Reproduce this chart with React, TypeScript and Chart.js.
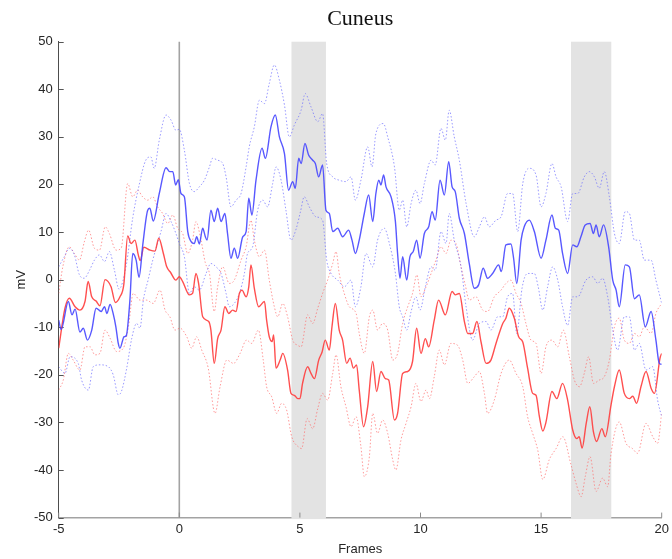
import { useEffect, useRef } from "react";
import { Chart, registerables } from "chart.js";

Chart.register(...registerables);

// ---- data ----
const blueMeanX = [-5.0, -4.9, -4.6, -4.45, -4.32, -4.12, -3.98, -3.81, -3.63, -3.45, -3.24, -3.1, -3.0, -2.87, -2.73, -2.63, -2.53, -2.46, -2.29, -2.2, -2.05, -1.93, -1.79, -1.67, -1.51, -1.31, -1.22, -1.08, -0.83, -0.55, -0.4, -0.27, -0.15, -0.04, 0.07, 0.21, 0.35, 0.49, 0.62, 0.72, 0.83, 0.97, 1.08, 1.15, 1.31, 1.45, 1.59, 1.73, 1.89, 2.0, 2.14, 2.28, 2.42, 2.63, 2.77, 2.88, 3.01, 3.18, 3.43, 3.57, 3.8, 3.98, 4.15, 4.36, 4.53, 4.7, 4.81, 4.95, 5.05, 5.21, 5.36, 5.53, 5.64, 5.78, 5.94, 6.08, 6.22, 6.36, 6.57, 6.77, 7.02, 7.16, 7.3, 7.46, 7.67, 7.85, 8.02, 8.15, 8.27, 8.36, 8.47, 8.57, 8.78, 8.96, 9.05, 9.15, 9.26, 9.43, 9.56, 9.7, 9.84, 9.98, 10.16, 10.34, 10.48, 10.61, 10.81, 10.99, 11.17, 11.31, 11.44, 11.61, 11.82, 12.02, 12.23, 12.41, 12.6, 12.78, 12.99, 13.24, 13.35, 13.54, 13.75, 13.86, 13.99, 14.17, 14.3, 14.51, 14.72, 15.0, 15.2, 15.45, 15.59, 15.73, 15.89, 16.1, 16.31, 16.48, 16.65, 16.83, 17.03, 17.17, 17.28, 17.41, 17.59, 17.8, 17.97, 18.11, 18.24, 18.49, 18.66, 18.87, 19.07, 19.32, 19.56, 19.76, 19.9, 20.0];
const blueMeanY = [-8.5, -10.5, -4.6, -7.4, -6.2, -11.0, -10.2, -12.7, -10.6, -6.0, -6.7, -5.7, -7.1, -5.2, -7.4, -9.9, -13.4, -14.4, -12.0, -11.8, -4.5, 5.5, 4.1, 0.5, 7.5, 14.6, 15.0, 12.3, 18.1, 23.5, 22.7, 22.7, 19.9, 21.0, 18.1, 17.4, 10.1, 8.0, 7.6, 9.0, 7.5, 10.8, 9.0, 8.3, 14.6, 12.2, 15.0, 12.2, 13.9, 9.7, 4.5, 6.6, 4.5, 9.0, 10.1, 17.1, 13.6, 20.9, 27.6, 25.5, 32.1, 34.6, 30.0, 26.5, 18.8, 20.6, 19.2, 25.5, 24.4, 28.6, 26.2, 25.1, 24.4, 21.6, 24.1, 14.6, 13.9, 10.1, 10.8, 9.0, 10.4, 8.3, 5.5, 8.3, 13.9, 17.8, 12.2, 18.1, 20.9, 19.9, 22.0, 19.5, 17.4, 12.2, 5.5, 0.3, 4.8, -0.1, 4.8, 5.9, 8.3, 4.5, 9.7, 11.1, 14.3, 12.5, 20.9, 17.8, 24.8, 19.5, 18.5, 12.9, 9.7, 3.4, -1.8, -1.1, 2.4, 0.3, 1.3, 3.1, 1.7, 7.3, 7.5, 4.5, -0.8, 8.3, 11.1, 12.5, 10.1, 4.5, 8.3, 13.6, 10.8, 10.4, 5.5, 1.3, 7.3, 6.9, 9.0, 11.5, 11.8, 9.7, 11.5, 9.0, 11.5, 6.9, -0.1, -2.2, -5.7, 3.1, 2.7, -4.0, -3.2, -9.9, -6.7, -12.7, -17.6, -17.8];

const redMeanX = [-5.0, -4.74, -4.56, -4.32, -4.12, -3.91, -3.78, -3.63, -3.45, -3.29, -3.08, -2.83, -2.65, -2.46, -2.3, -2.14, -2.0, -1.84, -1.7, -1.62, -1.47, -1.21, -1.01, -0.85, -0.66, -0.52, -0.36, -0.14, 0.0, 0.14, 0.42, 0.55, 0.69, 0.8, 0.97, 1.22, 1.31, 1.45, 1.59, 1.73, 1.89, 2.05, 2.21, 2.35, 2.49, 2.6, 2.77, 2.88, 2.97, 3.11, 3.29, 3.53, 3.62, 3.73, 3.85, 3.91, 4.01, 4.18, 4.29, 4.49, 4.63, 4.77, 4.91, 5.0, 5.11, 5.32, 5.46, 5.6, 5.78, 5.92, 6.05, 6.22, 6.33, 6.47, 6.63, 6.77, 6.94, 7.08, 7.22, 7.35, 7.46, 7.64, 7.81, 8.02, 8.18, 8.36, 8.54, 8.68, 8.92, 9.05, 9.26, 9.47, 9.67, 9.84, 10.02, 10.2, 10.34, 10.57, 10.75, 11.03, 11.31, 11.44, 11.61, 11.82, 11.96, 12.16, 12.34, 12.51, 12.72, 12.92, 13.13, 13.41, 13.54, 13.68, 13.89, 14.07, 14.24, 14.44, 14.65, 14.79, 14.93, 15.07, 15.2, 15.45, 15.65, 15.89, 16.1, 16.31, 16.48, 16.58, 16.7, 16.87, 17.02, 17.17, 17.3, 17.52, 17.66, 17.9, 18.04, 18.24, 18.45, 18.66, 18.8, 18.96, 19.14, 19.35, 19.56, 19.7, 19.93, 20.0];
const redMeanY = [-14.4, -6.0, -3.9, -5.7, -6.4, -4.6, -0.4, -3.6, -4.5, -5.5, 0.0, -1.5, -4.8, -3.6, -1.0, 9.2, 7.6, 8.3, 5.2, 4.0, 6.8, 6.2, 6.0, 8.7, 5.5, 2.7, 1.5, -0.1, 0.6, -0.4, -3.2, -2.9, 1.3, -0.8, -7.8, -8.8, -10.6, -17.6, -12.4, -10.6, -5.7, -7.1, -6.4, -6.7, -2.9, -2.2, -3.6, -1.5, 3.1, -1.8, -5.7, -4.6, -8.5, -12.0, -13.0, -11.6, -18.6, -16.9, -15.5, -19.0, -23.9, -24.3, -25.0, -25.0, -21.8, -18.3, -19.7, -20.8, -16.9, -15.2, -12.7, -14.8, -9.9, -5.0, -10.6, -12.7, -17.6, -16.5, -18.6, -17.9, -23.2, -30.9, -26.7, -17.2, -23.5, -19.3, -20.8, -21.1, -29.5, -28.1, -19.7, -19.3, -17.2, -10.2, -15.5, -12.4, -14.1, -8.5, -4.3, -7.4, -2.5, -3.2, -2.9, -8.8, -11.3, -11.3, -8.8, -13.1, -17.6, -16.9, -13.4, -9.2, -8.1, -6.0, -8.1, -12.0, -13.1, -18.6, -23.9, -24.3, -28.8, -31.8, -30.0, -23.5, -25.0, -21.8, -25.3, -31.6, -33.4, -33.0, -35.4, -30.2, -26.7, -32.0, -34.0, -31.3, -33.0, -26.3, -22.5, -19.0, -23.9, -25.0, -24.5, -26.0, -22.5, -19.3, -22.8, -23.9, -16.5, -15.5];

const blueUpperX = [-5.0, -4.77, -4.56, -4.35, -4.14, -3.94, -3.72, -3.52, -3.31, -3.1, -2.9, -2.69, -2.5, -2.2, -1.93, -1.66, -1.39, -1.18, -1.04, -0.83, -0.55, -0.34, -0.14, 0.0, 0.21, 0.42, 0.62, 0.83, 1.04, 1.25, 1.38, 1.59, 1.8, 1.94, 2.14, 2.35, 2.56, 2.77, 2.9, 3.11, 3.32, 3.53, 3.73, 3.94, 4.15, 4.36, 4.56, 4.77, 5.05, 5.22, 5.46, 5.74, 5.94, 6.11, 6.36, 6.63, 6.91, 7.12, 7.3, 7.53, 7.81, 7.99, 8.15, 8.46, 8.64, 8.92, 9.12, 9.26, 9.43, 9.61, 9.81, 9.98, 10.16, 10.44, 10.61, 10.85, 11.03, 11.19, 11.4, 11.61, 11.89, 12.23, 12.44, 12.65, 12.85, 13.13, 13.34, 13.61, 13.82, 14.03, 14.24, 14.51, 14.79, 15.0, 15.2, 15.45, 15.62, 15.83, 16.1, 16.31, 16.52, 16.79, 17.0, 17.21, 17.41, 17.62, 17.83, 18.04, 18.24, 18.49, 18.66, 18.87, 19.07, 19.28, 19.56, 19.76, 20.0];
const blueUpperY = [2.7, 4.8, 6.6, 5.2, 1.0, 0.3, 2.0, 4.1, 5.2, 3.8, 5.9, 2.0, -2.0, 3.0, 13.0, 20.0, 25.1, 25.8, 23.4, 29.3, 34.6, 33.5, 31.4, 31.6, 27.2, 20.2, 18.5, 19.5, 20.9, 23.7, 25.5, 25.1, 24.4, 21.6, 15.3, 16.7, 18.1, 23.7, 27.9, 32.1, 37.7, 37.0, 41.2, 45.1, 41.9, 36.7, 30.0, 32.5, 35.6, 39.1, 36.3, 33.2, 34.9, 24.4, 21.6, 20.9, 20.6, 21.6, 16.7, 20.9, 27.9, 23.7, 30.7, 32.8, 30.0, 23.7, 14.6, 16.7, 11.1, 16.0, 18.8, 16.0, 20.2, 25.1, 24.1, 31.8, 29.3, 35.6, 30.0, 25.1, 16.0, 9.0, 11.1, 13.2, 11.1, 12.5, 13.2, 18.1, 18.1, 10.1, 20.2, 23.4, 22.0, 15.3, 18.1, 24.4, 21.6, 19.5, 12.2, 18.1, 18.1, 21.6, 22.7, 21.6, 19.2, 22.7, 17.4, 9.7, 7.6, 14.3, 13.9, 8.3, 8.3, 4.1, 4.1, -0.1, -5.0];

const blueLowerX = [-5.0, -4.74, -4.53, -4.19, -4.05, -3.77, -3.57, -3.29, -2.94, -2.74, -2.53, -2.4, -2.18, -1.97, -1.77, -1.63, -1.49, -1.29, -1.1, -0.76, -0.55, -0.34, -0.14, 0.0, 0.21, 0.42, 0.62, 0.83, 1.11, 1.31, 1.52, 1.73, 1.94, 2.07, 2.28, 2.49, 2.7, 2.83, 3.04, 3.25, 3.46, 3.66, 3.87, 4.01, 4.22, 4.42, 4.63, 4.84, 5.02, 5.18, 5.39, 5.67, 5.94, 6.11, 6.29, 6.57, 6.84, 7.12, 7.3, 7.53, 7.74, 8.02, 8.22, 8.5, 8.71, 8.96, 9.12, 9.26, 9.43, 9.61, 9.81, 9.98, 10.2, 10.44, 10.61, 10.85, 11.06, 11.19, 11.4, 11.68, 11.89, 12.16, 12.44, 12.72, 12.92, 13.2, 13.41, 13.61, 13.82, 13.99, 14.21, 14.44, 14.72, 14.88, 15.07, 15.27, 15.48, 15.69, 15.89, 16.1, 16.31, 16.52, 16.86, 17.14, 17.35, 17.55, 17.76, 17.97, 18.17, 18.45, 18.66, 18.87, 19.07, 19.35, 19.63, 19.83, 20.0];
const blueLowerY = [-18.3, -19.7, -16.2, -17.6, -21.1, -23.2, -18.3, -17.9, -18.3, -20.0, -24.2, -23.5, -18.6, -12.3, -9.2, -10.2, -4.3, 0.0, 4.1, 10.1, 13.9, 12.2, 9.7, 7.6, 4.8, -2.9, -1.5, -2.2, 1.3, 3.4, 2.7, 1.3, -2.9, -5.7, -5.0, -2.9, 1.3, 5.5, 6.9, 14.6, 16.7, 15.3, 20.2, 23.7, 20.9, 14.6, 8.3, 10.6, 14.2, 17.4, 15.3, 13.2, 12.5, 4.1, 1.3, -0.1, -1.5, -0.1, -5.7, -1.5, 5.5, 2.7, 8.3, 10.8, 7.6, 1.3, -5.7, -7.8, -10.6, -6.7, -3.6, -6.4, -1.5, 2.7, 2.0, 10.1, 7.6, 13.9, 8.3, 2.7, -5.7, -12.7, -9.2, -8.8, -10.6, -7.8, -7.8, -3.6, -2.9, -11.3, -1.8, 1.3, 1.3, -1.5, -6.4, -1.5, 2.7, -0.1, -5.7, -9.6, -3.6, -3.6, -0.1, 0.6, -0.8, 0.3, -3.6, -10.6, -14.8, -7.8, -7.8, -14.8, -13.4, -19.0, -18.3, -25.3, -28.8];

const redUpperX = [-5.0, -4.83, -4.56, -4.35, -4.14, -3.94, -3.76, -3.52, -3.31, -3.07, -2.9, -2.62, -2.41, -2.14, -1.93, -1.73, -1.52, -1.31, -1.1, -0.9, -0.69, -0.48, -0.27, -0.07, 0.14, 0.35, 0.55, 0.69, 0.9, 1.08, 1.25, 1.45, 1.59, 1.8, 2.07, 2.28, 2.56, 2.77, 2.97, 3.11, 3.32, 3.53, 3.73, 3.94, 4.08, 4.29, 4.49, 4.7, 4.91, 5.05, 5.32, 5.53, 5.74, 5.94, 6.15, 6.36, 6.5, 6.63, 6.84, 7.05, 7.33, 7.46, 7.67, 7.88, 8.02, 8.22, 8.43, 8.64, 8.85, 9.05, 9.26, 9.47, 9.67, 9.85, 10.02, 10.23, 10.44, 10.64, 10.85, 11.06, 11.26, 11.47, 11.68, 11.85, 12.02, 12.3, 12.58, 12.78, 13.06, 13.34, 13.54, 13.75, 13.96, 14.17, 14.37, 14.58, 14.79, 15.0, 15.2, 15.45, 15.69, 15.92, 16.17, 16.38, 16.59, 16.79, 16.97, 17.17, 17.41, 17.62, 17.83, 18.04, 18.24, 18.45, 18.66, 18.87, 19.07, 19.28, 19.56, 19.76, 20.0];
const redUpperY = [-2.9, 2.7, 6.9, 5.5, 4.1, 7.9, 10.4, 6.6, 6.2, 11.1, 9.7, 6.2, 6.6, 20.2, 17.4, 18.8, 17.4, 16.7, 17.4, 15.3, 13.9, 11.8, 13.6, 10.8, 9.7, 5.5, 8.3, 12.2, 8.3, 3.5, 1.3, -6.7, -1.5, 2.7, -0.8, -0.1, 4.1, 6.9, 12.5, 8.3, 4.8, 6.2, -0.1, -5.7, -7.8, -5.0, -7.8, -12.7, -13.8, -14.1, -7.4, -9.2, -6.0, -2.9, -0.1, 3.4, 5.9, 1.3, -2.9, -5.7, -7.1, -11.3, -15.5, -7.8, -6.4, -10.6, -9.2, -10.6, -16.9, -15.5, -9.2, -5.7, -2.9, 1.0, -3.6, -1.5, 1.3, 4.1, 6.9, 5.5, 8.3, 7.6, 2.7, -1.0, -4.3, -3.6, -6.4, -6.7, -3.6, -2.2, -0.8, -0.1, -2.9, -5.0, -9.2, -12.7, -13.4, -19.7, -14.1, -12.7, -14.1, -10.6, -16.2, -21.1, -22.5, -19.7, -16.2, -21.8, -21.1, -20.4, -16.9, -9.9, -8.1, -12.7, -13.4, -11.3, -12.0, -9.9, -11.3, -7.1, -5.0];

const redLowerX = [-5.0, -4.81, -4.6, -4.4, -4.12, -3.91, -3.7, -3.5, -3.29, -3.08, -2.87, -2.6, -2.32, -2.11, -1.91, -1.63, -1.36, -1.08, -0.8, -0.59, -0.39, -0.18, 0.03, 0.31, 0.51, 0.72, 0.93, 1.2, 1.48, 1.69, 1.97, 2.25, 2.52, 2.79, 3.0, 3.28, 3.48, 3.62, 3.83, 4.04, 4.24, 4.45, 4.66, 4.93, 5.07, 5.3, 5.53, 5.74, 5.94, 6.15, 6.36, 6.5, 6.7, 6.91, 7.12, 7.33, 7.53, 7.67, 7.88, 8.02, 8.22, 8.43, 8.64, 8.85, 8.98, 9.19, 9.4, 9.61, 9.81, 10.02, 10.23, 10.37, 10.57, 10.78, 10.99, 11.26, 11.54, 11.75, 11.96, 12.23, 12.44, 12.65, 12.78, 13.06, 13.34, 13.68, 13.96, 14.24, 14.44, 14.65, 14.86, 15.07, 15.34, 15.62, 15.9, 16.24, 16.45, 16.66, 16.83, 17.03, 17.28, 17.55, 17.76, 17.9, 18.24, 18.52, 18.79, 19.0, 19.35, 19.63, 19.83, 20.0];
const redLowerY = [-23.2, -21.1, -15.5, -16.9, -19.0, -14.1, -14.1, -15.8, -15.5, -10.6, -12.3, -15.1, -14.4, -9.9, -2.9, -4.3, -4.3, -5.0, -2.2, -6.4, -7.8, -10.6, -10.2, -12.0, -14.4, -12.0, -14.8, -18.6, -28.1, -22.5, -16.9, -17.6, -15.5, -12.7, -13.4, -10.6, -16.9, -22.5, -24.6, -28.1, -26.0, -27.4, -33.0, -35.1, -35.5, -29.2, -31.3, -27.1, -23.9, -25.3, -19.7, -15.8, -22.5, -26.7, -30.9, -28.8, -35.1, -41.4, -37.2, -28.1, -32.3, -29.5, -32.3, -37.9, -40.0, -33.7, -30.2, -26.7, -21.8, -25.6, -23.2, -25.0, -20.4, -14.8, -17.9, -13.4, -13.8, -16.9, -21.8, -20.4, -19.3, -23.9, -28.1, -25.3, -19.7, -16.9, -19.7, -22.5, -28.8, -32.3, -35.8, -42.0, -37.8, -35.5, -33.0, -38.9, -42.8, -45.6, -41.4, -37.2, -44.5, -41.7, -43.5, -36.5, -29.9, -34.4, -35.5, -36.5, -30.2, -33.0, -34.4, -28.1];

const xTicks = [-5, 0, 5, 10, 15, 20];
const yTicks = [-50, -40, -30, -20, -10, 0, 10, 20, 30, 40, 50];
const shadedStart = [4.65, 16.24];
const shadedEnd = [6.08, 17.91];
const eventFrame = 0;

function pts(xs: number[], ys: number[]) {
  return xs.map((x, i) => ({ x, y: ys[i] }));
}

const decorPlugin = {
  id: "decor",
  beforeDatasetsDraw(chart: any) {
    const { ctx, chartArea: a, scales } = chart;
    const xs = scales.x;
    const ys = scales.y;
    ctx.save();
    ctx.fillStyle = "#e3e3e3";
    for (let i = 0; i < shadedStart.length; i++) {
      const x0 = xs.getPixelForValue(shadedStart[i]);
      const x1 = xs.getPixelForValue(shadedEnd[i]);
      ctx.fillRect(x0, a.top, x1 - x0, a.bottom - a.top + 1.5);
    }
    const zx = xs.getPixelForValue(eventFrame);
    ctx.strokeStyle = "#a3a3a3";
    ctx.lineWidth = 1.6;
    ctx.beginPath();
    ctx.moveTo(zx, a.top);
    ctx.lineTo(zx, a.bottom);
    ctx.stroke();
    ctx.strokeStyle = "#555555";
    ctx.lineWidth = 1;
    for (const t of yTicks) {
      const py = Math.round(ys.getPixelForValue(t)) + 0.5;
      ctx.beginPath();
      ctx.moveTo(a.left, py);
      ctx.lineTo(a.left + 5, py);
      ctx.stroke();
    }
    ctx.strokeStyle = "#8a8a8a";
    for (const t of xTicks) {
      const px = xs.getPixelForValue(t);
      ctx.beginPath();
      ctx.moveTo(px, a.bottom);
      ctx.lineTo(px, a.bottom - 5);
      ctx.stroke();
    }
    ctx.restore();
  },
};

export default function App() {
  const ref = useRef<HTMLCanvasElement | null>(null);

  useEffect(() => {
    document.body.style.margin = "0";
    const canvas = ref.current;
    if (!canvas) return;
    const tickFont = { family: "'Liberation Sans', Arial, sans-serif", size: 13 };
    const lineBase = {
      pointRadius: 0,
      pointHoverRadius: 0,
      fill: false,
      cubicInterpolationMode: "monotone" as const,
    };
    const chart = new Chart(canvas, {
      type: "line",
      data: {
        datasets: [
          { ...lineBase, label: "blue mean", data: pts(blueMeanX, blueMeanY), borderColor: "rgba(70,70,255,0.9)", borderWidth: 1.4 },
          { ...lineBase, label: "red mean", data: pts(redMeanX, redMeanY), borderColor: "rgba(255,60,60,0.9)", borderWidth: 1.4 },
          { ...lineBase, label: "blue upper", data: pts(blueUpperX, blueUpperY), borderColor: "rgba(110,110,255,0.7)", borderWidth: 1, borderDash: [1.5, 2] },
          { ...lineBase, label: "blue lower", data: pts(blueLowerX, blueLowerY), borderColor: "rgba(110,110,255,0.7)", borderWidth: 1, borderDash: [1.5, 2] },
          { ...lineBase, label: "red upper", data: pts(redUpperX, redUpperY), borderColor: "rgba(255,110,110,0.7)", borderWidth: 1, borderDash: [1.5, 2] },
          { ...lineBase, label: "red lower", data: pts(redLowerX, redLowerY), borderColor: "rgba(255,110,110,0.7)", borderWidth: 1, borderDash: [1.5, 2] },
        ],
      },
      options: {
        responsive: false,
        animation: false,
        events: [],
        layout: { padding: { left: 0, right: 10.3, top: 0, bottom: 0 } },
        plugins: {
          legend: { display: false },
          tooltip: { enabled: false },
          title: {
            display: true,
            text: "Cuneus",
            fullSize: false,
            color: "#111111",
            font: { family: "'Liberation Serif', 'Times New Roman', serif", size: 22, weight: "normal", lineHeight: 1.2 },
            padding: { top: 6, bottom: 9.3 },
          },
        },
        scales: {
          x: {
            type: "linear",
            min: -5,
            max: 20,
            grid: { display: false, drawTicks: false },
            border: { display: true, color: "#a3a3a3", width: 1.6 },
            ticks: {
              stepSize: 5,
              padding: 4,
              color: "#262626",
              font: tickFont,
              autoSkip: false,
              maxRotation: 0,
              callback: (v: any) => String(v),
            },
            title: { display: true, text: "Frames", color: "#262626", font: tickFont, padding: { top: 0, bottom: 2 } },
            afterFit: (s: any) => {
              s.height = 41.4;
              s.paddingLeft = 0;
              s.paddingRight = 0;
            },
          },
          y: {
            type: "linear",
            min: -50,
            max: 50,
            grid: { display: false, drawTicks: false },
            border: { display: true, color: "#4d4d4d", width: 1 },
            ticks: {
              stepSize: 10,
              padding: 6,
              color: "#262626",
              font: tickFont,
              autoSkip: false,
              callback: (v: any) => String(v),
            },
            title: { display: true, text: "mV", color: "#262626", font: tickFont, padding: { top: 14, bottom: 0 } },
            afterFit: (s: any) => {
              s.width = 58.7;
              s.paddingTop = 0;
              s.paddingBottom = 0;
            },
          },
        },
      },
      plugins: [decorPlugin],
    });
    return () => chart.destroy();
  }, []);

  return (
    <div style={{ width: 672, height: 559 }}>
      <canvas ref={ref} width={672} height={559} style={{ display: "block" }} />
    </div>
  );
}
